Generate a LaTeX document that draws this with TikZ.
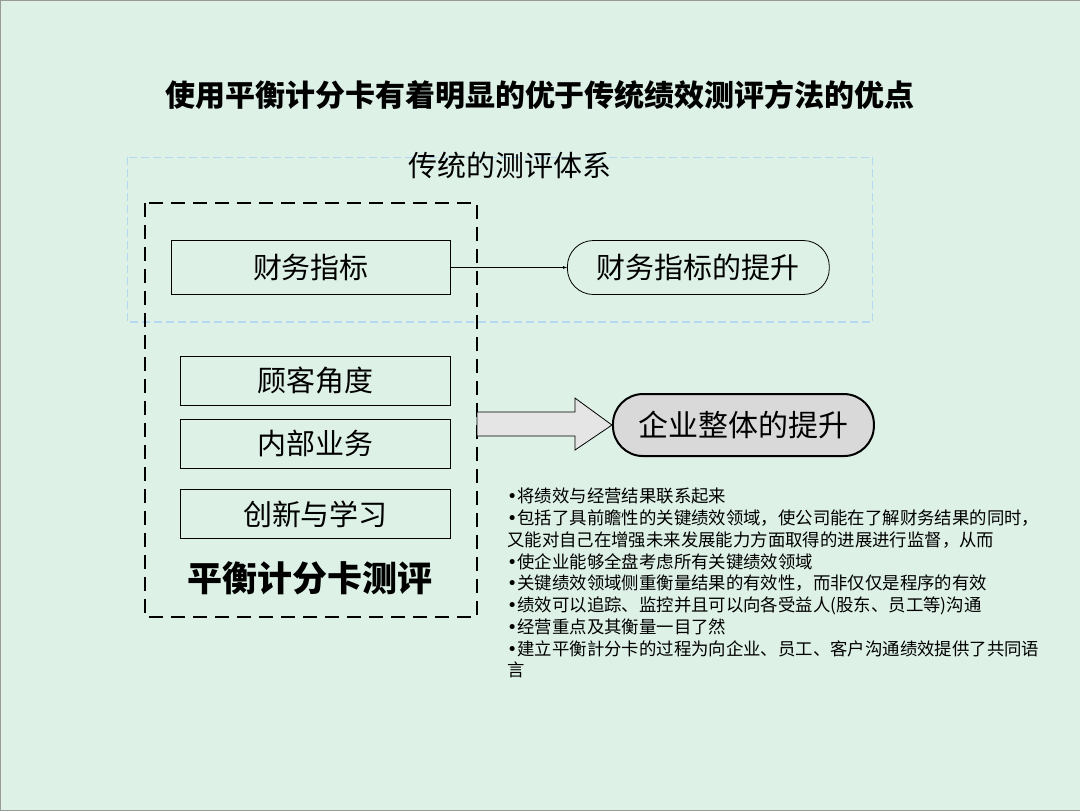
\documentclass[tikz,border=0pt]{standalone}
\usepackage{fontspec}
\setmainfont{Noto Sans CJK SC}
\newfontfamily\latinf{DejaVu Sans}
\newcommand{\bul}{{\latinf •}}
\definecolor{bg}{HTML}{DDF1E7}
\definecolor{lb}{HTML}{B5D8F0}
\tikzset{box/.style={draw=black,thick,fill=bg,minimum height=#1,anchor=north west,inner sep=0pt},
 pill/.style={draw=black,thick,rounded corners=26pt,inner sep=0pt,anchor=north west}}
\begin{document}
\begin{tikzpicture}[x=1pt,y=-1pt]
\fill[bg,draw=gray!80] (0,0) rectangle (1080,810);
\node[font=\fontsize{30}{34}\selectfont\bfseries] (title) at (540,95) {使用平衡计分卡有着明显的优于传统绩效测评方法的优点};
\draw[lb,dashed,line width=1.2pt,dash pattern=on 8pt off 4pt] (127,157) rectangle (873,322);
\node[font=\fontsize{29}{32}\selectfont] (trad) at (510,165) {传统的测评体系};
\draw[black,line width=2pt,dash pattern=on 14pt off 8pt] (145,203) rectangle (477,617);
\node[box=54pt,minimum width=279pt] (f) at (171,240) {\fontsize{29}{32}\selectfont 财务指标};
\node[box=49pt,minimum width=270pt] (c) at (180,356) {\fontsize{29}{32}\selectfont 顾客角度};
\node[box=49pt,minimum width=270pt] (n) at (180,419) {\fontsize{29}{32}\selectfont 内部业务};
\node[box=49pt,minimum width=270pt] (x) at (180,489) {\fontsize{29}{32}\selectfont 创新与学习};
\node[font=\fontsize{35}{38}\selectfont\bfseries] (bsc) at (310,578) {平衡计分卡测评};
\node[pill,minimum width=262pt,minimum height=54pt] (fp) at (567,240) {\fontsize{29}{32}\selectfont 财务指标的提升};
\draw[-latex] (f.east) -- (fp.west);
\node[pill,fill=gray!30,line width=2pt,rounded corners=30pt,minimum width=261pt,minimum height=62pt] (qp) at (612,393) {\fontsize{30}{34}\selectfont 企业整体的提升};
\draw[thick,fill=gray!20] (477,412) -- (575,412) -- (575,398) -- (qp.west) -- (575,450) -- (575,436) -- (477,436) -- cycle;
\node[anchor=north west,align=left,inner sep=0pt,font=\fontsize{17.4}{21.75}\selectfont] (txt) at (507,488) {\bul 将绩效与经营结果联系起来\\
\bul 包括了具前瞻性的关键绩效领域，使公司能在了解财务结果的同时，\\
又能对自己在增强未来发展能力方面取得的进展进行监督，从而\\
\bul 使企业能够全盘考虑所有关键绩效领域\\
\bul 关键绩效领域侧重衡量结果的有效性，而非仅仅是程序的有效\\
\bul 绩效可以追踪、监控并且可以向各受益人(股东、员工等)沟通\\
\bul 经营重点及其衡量一目了然\\
\bul 建立平衡計分卡的过程为向企业、员工、客户沟通绩效提供了共同语\\
言};
\end{tikzpicture}
\end{document}
